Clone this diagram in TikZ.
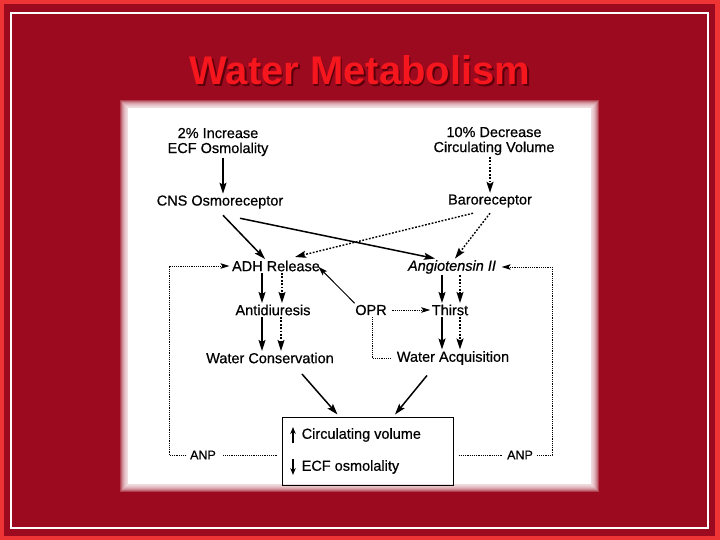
\documentclass[tikz,border=0pt]{standalone}
\usepackage{fontspec}
\setmainfont{Liberation Sans}[FakeBold=0.6]
\newfontfamily\titlefont{Liberation Sans}
\usetikzlibrary{arrows.meta,calc}
\definecolor{bgred}{RGB}{156,10,32}
\definecolor{rim}{RGB}{238,52,52}
\definecolor{titlered}{RGB}{246,22,30}
\definecolor{titleshadow}{RGB}{90,0,10}
\begin{document}
\begin{tikzpicture}[x=1pt,y=-1pt,
  lbl/.style={font=\fontsize{14.5}{16}\selectfont, inner sep=1.5pt, text=black},
  small/.style={font=\fontsize{12.5}{14}\selectfont, inner sep=1.5pt, text=black},
  tip/.style={-{Stealth[length=11pt,width=7pt,inset=2pt]}},
  sol/.style={line width=1.5pt, tip},
  thinsol/.style={line width=1pt, -{Stealth[length=9pt,width=6pt,inset=2pt]}},
  dots/.style={line width=1.4pt, dash pattern=on 1.8pt off 1.6pt, tip},
  fb/.style={line width=0.8pt, dash pattern=on 1.2pt off 1pt},
  fbtip/.style={-{Stealth[length=9pt,width=5.5pt,inset=2pt]}},
  updown/.style={line width=2pt, -{Stealth[length=7pt,width=5.5pt]}}]
\useasboundingbox (0,0) rectangle (720,540);
% background
\fill[rim] (0,0) rectangle (720,540);
\fill[bgred] (4,4) rectangle (715,536);
\draw[white,line width=1.2pt] (11,13) rectangle (708,528);
% glowing white panel
\foreach \i in {8,7,...,1}{
  \fill[white,opacity=0.22] ({128-\i},{108-\i}) rectangle ({591+\i},{484+\i});
}
\fill[white] (128,108) rectangle (591,484);
% title
\node[font=\titlefont\fontsize{40}{44}\selectfont\bfseries, text=titleshadow, anchor=base] (titlesh) at (361.5,86.5) {Water Metabolism};
\node[font=\titlefont\fontsize{40}{44}\selectfont\bfseries, text=titlered, anchor=base] (title) at (360,85) {Water Metabolism};
% nodes
\node[lbl, align=center] (inc) at (218,142) {2\% Increase\\[-1pt]ECF Osmolality};
\node[lbl, align=center] (dec) at (494,141) {10\% Decrease\\[-1pt]Circulating Volume};
\node[lbl] (cns) at (220,202) {CNS Osmoreceptor};
\node[lbl] (baro) at (490,201) {Baroreceptor};
\node[lbl] (adh) at (276,266) {ADH Release};
\node[lbl] (ang) at (452,267) {\itshape Angiotensin II};
\node[lbl] (anti) at (273,310) {Antidiuresis};
\node[lbl] (opr) at (371,310) {OPR};
\node[lbl] (thirst) at (450,310) {Thirst};
\node[lbl] (wc) at (270,358) {Water Conservation};
\node[lbl] (wa) at (453,358) {Water Acquisition};
\node[draw, line width=1pt, minimum width=171pt, minimum height=68pt, inner sep=0pt] (box) at (367.5,451) {};
\node[lbl, anchor=west] (cv) at (300,435) {Circulating volume};
\node[lbl, anchor=west] (ecf) at (300,467) {ECF osmolality};
\node[small] (anpL) at (203,455) {ANP};
\node[small] (anpR) at (520,455) {ANP};
\coordinate (Lx) at (169,0);
\coordinate (Rx) at (552,0);
% arrows, top
\draw[sol] ([xshift=5pt]inc.south) -- ([xshift=5pt]inc.south |- cns.north);
\draw[dots] ([xshift=-4pt]dec.south) -- ([xshift=-4pt]dec.south |- baro.north);
\draw[sol] ([shift={(3,5)}]cns.south) -- ([shift={(-11,0)}]adh.north);
\draw[sol] ([shift={(20,8)}]cns.south) -- ([shift={(-17,0)}]ang.north);
\draw[dots] ([shift={(-17,4)}]baro.south) -- ([shift={(19,-2)}]adh.north);
\draw[dots] ([shift={(0,4)}]baro.south) -- ([shift={(3,0)}]ang.north);
% middle columns
\draw[sol] ([xshift=-14pt]adh.south) -- ([xshift=-14pt]adh.south |- anti.north);
\draw[dots] ([xshift=6pt]adh.south) -- ([xshift=6pt]adh.south |- anti.north);
\draw[sol] ([xshift=-10pt]ang.south) -- ([xshift=-10pt]ang.south |- thirst.north);
\draw[dots] ([xshift=8pt]ang.south) -- ([xshift=8pt]ang.south |- thirst.north);
\draw[sol] ([xshift=-11pt]anti.south) -- ([xshift=-11pt]anti.south |- wc.north);
\draw[dots] ([xshift=8pt]anti.south) -- ([xshift=8pt]anti.south |- wc.north);
\draw[sol] ([xshift=-8pt]thirst.south) -- ([xshift=-8pt]thirst.south |- wa.north);
\draw[dots] ([xshift=10pt]thirst.south) -- ([xshift=10pt]thirst.south |- wa.north);
% OPR
\draw[thinsol] ([shift={(1,0)}]opr.north west) -- ([shift={(-3,1)}]adh.east);
\draw[fb, fbtip] ([xshift=4pt]opr.east) -- (thirst.west);
\draw[fb] ([xshift=1pt]opr.south) |- ([xshift=-4pt]wa.west);
% to box
\draw[sol] ([shift={(32,9)}]wc.south) -- ([shift={(-30,-2)}]box.north);
\draw[sol] ([shift={(-26,9)}]wa.south) -- ([shift={(27.5,-2)}]box.north);
% up / down marks
\draw[updown] ([shift={(-7,8)}]cv.west) -- ([shift={(-7,-8)}]cv.west);
\draw[updown] ([shift={(-7,-8)}]ecf.west) -- ([shift={(-7,8)}]ecf.west);
% feedback loops
\draw[fb, shorten <=5pt, shorten >=5pt] (box.west |- anpL) -- (anpL.east);
\draw[fb, fbtip, shorten >=1pt] ([xshift=-2pt]anpL.west) -- (anpL.west -| Lx) |- (adh.west);
\draw[fb, shorten <=5pt, shorten >=3pt] (box.east |- anpR) -- (anpR.west);
\draw[fb, fbtip, shorten >=4pt] ([xshift=2pt]anpR.east) -- (anpR.east -| Rx) |- (ang.east);
\end{tikzpicture}
\end{document}
